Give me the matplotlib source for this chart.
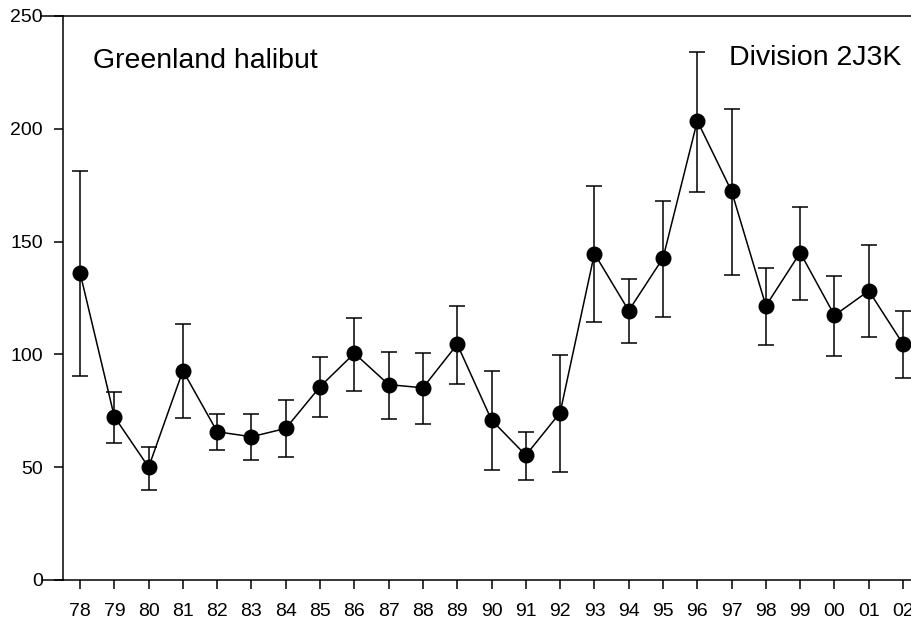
import numpy as np
import matplotlib
matplotlib.use('Agg')
import matplotlib.pyplot as plt
from matplotlib.lines import Line2D

plt.rcParams['font.family'] = ['Liberation Sans', 'DejaVu Sans']

# Survey index by year (two-digit years shown on the axis)
years = np.arange(78, 103)
year_labels = ['78', '79', '80', '81', '82', '83', '84', '85', '86', '87', '88', '89',
               '90', '91', '92', '93', '94', '95', '96', '97', '98', '99', '00', '01', '02']
mean = [136.2, 72.4, 50.0, 92.8, 65.7, 63.5, 67.2, 85.7, 100.5, 86.6, 85.2, 104.5,
        70.9, 55.3, 74.2, 144.7, 119.4, 142.7, 203.5, 172.3, 121.5, 145.1, 117.3, 128.2, 104.6]
upper = [181.3, 83.5, 59.1, 113.6, 73.4, 73.4, 79.8, 99.0, 116.3, 101.2, 100.5, 121.5,
         92.5, 65.5, 99.7, 174.8, 133.6, 168.1, 234.2, 208.9, 138.4, 165.5, 134.8, 148.4, 119.1]
lower = [90.4, 60.9, 39.9, 71.8, 57.8, 53.2, 54.4, 72.1, 83.9, 71.5, 69.1, 87.0,
         48.8, 44.3, 47.9, 114.4, 105.2, 116.7, 172.1, 135.1, 104.3, 124.2, 99.4, 107.6, 89.7]

mean = np.array(mean)
yerr = np.vstack([mean - np.array(lower), np.array(upper) - mean])

fig = plt.figure(figsize=(9.12, 6.25), dpi=100)
ax = fig.add_axes([0.0691, 0.072, 0.9309, 0.9024])

ax.errorbar(years, mean, yerr=yerr, fmt='-o', color='black', lw=1.1,
            ms=10.5, elinewidth=1.1, capsize=6, capthick=1.1, clip_on=False)

ax.set_xlim(77.504, 102.26)
ax.set_ylim(0, 250)
ax.set_xticks(years)
ax.set_xticklabels(year_labels)
ax.set_yticks([0, 50, 100, 150, 200, 250])

ax.spines['right'].set_visible(False)
for s in ['left', 'top', 'bottom']:
    ax.spines[s].set_linewidth(1.1)
ax.tick_params(axis='both', direction='out', length=6.5, width=1.1, labelsize=14)
ax.tick_params(axis='x', pad=10)
ax.tick_params(axis='y', pad=8)

# top and bottom axis lines run past the left axis like the original
for yy in (0, 1):
    ax.add_line(Line2D([-0.025, 0], [yy, yy], transform=ax.transAxes,
                       color='black', lw=1.1, clip_on=False))

ax.text(0.0353, 0.908, 'Greenland halibut', transform=ax.transAxes,
        fontsize=20.5, va='baseline', ha='left')
ax.text(0.7845, 0.913, 'Division 2J3K', transform=ax.transAxes,
        fontsize=20.5, va='baseline', ha='left')

fig.savefig('out.png', dpi=100)
